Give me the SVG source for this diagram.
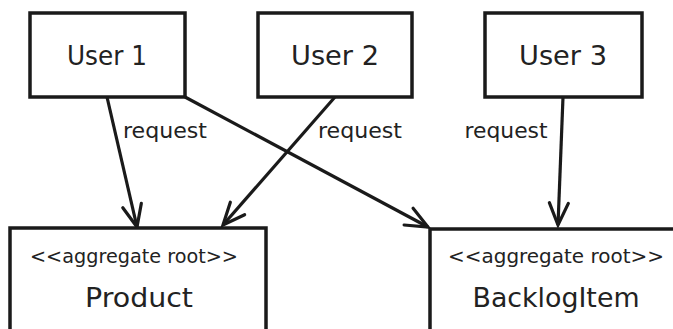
<svg xmlns="http://www.w3.org/2000/svg" width="673" height="329" viewBox="0 0 673 329">
<style>
.box{fill:#fff;stroke:#1a1a1a;stroke-width:3.5}
.t{font-family:"DejaVu Sans",sans-serif;fill:#222;text-anchor:middle}
.u{font-size:27px}
.r{font-size:21px}
.s{font-size:19px}
.n{font-size:27px}
.c{fill:none;stroke:#1a1a1a;stroke-width:3.2}
</style>
<defs>
<marker id="ah" markerUnits="userSpaceOnUse" markerWidth="30" markerHeight="30" viewBox="-25 -12 30 24" refX="0" refY="0" orient="auto">
<path d="M-22,-9.5 L0,0 L-22,9.5" fill="none" stroke="#1a1a1a" stroke-width="3.2" stroke-linecap="round" stroke-linejoin="miter"/>
</marker>
</defs>
<rect width="673" height="329" fill="#fff"/>
<g id="connectors">
<line class="c" x1="107" y1="97" x2="137" y2="227" marker-end="url(#ah)"/>
<line class="c" x1="185" y1="97" x2="428" y2="227" marker-end="url(#ah)"/>
<line class="c" x1="335" y1="97" x2="223" y2="225" marker-end="url(#ah)"/>
<line class="c" x1="563" y1="97" x2="558" y2="225" marker-end="url(#ah)"/>
<text class="t r" x="165" y="138" textLength="84" lengthAdjust="spacingAndGlyphs">request</text>
<text class="t r" x="360" y="138" textLength="84" lengthAdjust="spacingAndGlyphs">request</text>
<text class="t r" x="506" y="138" textLength="83" lengthAdjust="spacingAndGlyphs">request</text>
</g>
<g id="user1">
<rect class="box" x="30" y="13" width="155" height="84"/>
<text class="t u" x="107" y="65" textLength="80" lengthAdjust="spacingAndGlyphs">User 1</text>
</g>
<g id="user2">
<rect class="box" x="258" y="13" width="154" height="84"/>
<text class="t u" x="335" y="65" textLength="88" lengthAdjust="spacingAndGlyphs">User 2</text>
</g>
<g id="user3">
<rect class="box" x="485" y="13" width="157" height="84"/>
<text class="t u" x="563" y="65" textLength="88" lengthAdjust="spacingAndGlyphs">User 3</text>
</g>
<g id="product">
<rect class="box" x="10" y="228" width="256" height="120"/>
<text class="t s" x="134" y="263" textLength="208" lengthAdjust="spacingAndGlyphs">&lt;&lt;aggregate root&gt;&gt;</text>
<text class="t n" x="139" y="307" textLength="108" lengthAdjust="spacingAndGlyphs">Product</text>
</g>
<g id="backlogitem">
<rect class="box" x="430" y="229" width="260" height="120"/>
<text class="t s" x="556" y="263" textLength="216" lengthAdjust="spacingAndGlyphs">&lt;&lt;aggregate root&gt;&gt;</text>
<text class="t n" x="556" y="307" textLength="167" lengthAdjust="spacingAndGlyphs">BacklogItem</text>
</g>
</svg>
